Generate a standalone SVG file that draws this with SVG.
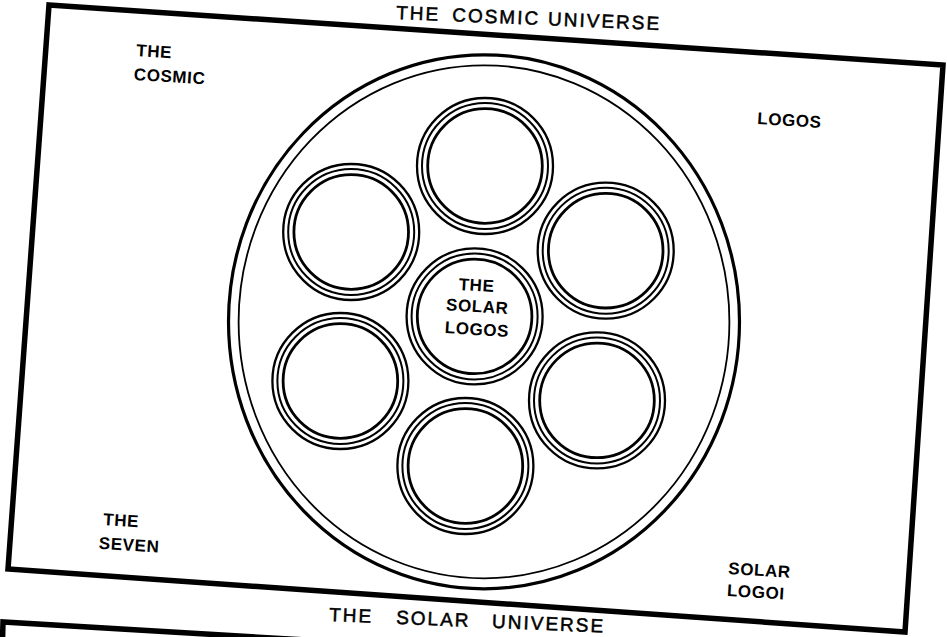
<svg xmlns="http://www.w3.org/2000/svg" width="947" height="637" viewBox="0 0 947 637">
<style>
  .frame { fill: none; stroke: #000; stroke-width: 5.5; stroke-linejoin: miter; }
  .ring1 { fill: none; stroke: #000; stroke-width: 2.3; }
  .ring2 { fill: none; stroke: #000; stroke-width: 2; }
  .ring3 { fill: none; stroke: #000; stroke-width: 2.8; }
  .big-out { fill: none; stroke: #000; stroke-width: 3.2; }
  .big-in { fill: none; stroke: #000; stroke-width: 1.8; }
  .lbl { font-family: "Liberation Sans", Arial, sans-serif; font-weight: bold; font-size: 17px; fill: #000; letter-spacing: 0.6px; }
  .title { font-family: "Liberation Sans", Arial, sans-serif; font-size: 19px; fill: #000; stroke: #000; stroke-width: 0.5px; letter-spacing: 2px; }
</style>
<defs>
  <g id="triple">
    <circle class="ring1" r="68"/>
    <circle class="ring2" r="63"/>
    <circle class="ring3" r="57.3"/>
  </g>
</defs>
<rect width="947" height="637" fill="#fff"/>

<g id="titles">
  <text class="title" transform="translate(396,19) rotate(2.4)"><tspan x="0">THE</tspan><tspan x="56">COSMIC</tspan><tspan x="152">UNIVERSE</tspan></text>
  <text class="title" transform="translate(329,621) rotate(2.4)"><tspan x="0">THE</tspan><tspan x="67">SOLAR</tspan><tspan x="163">UNIVERSE</tspan></text>
</g>

<g id="frame">
  <polygon class="frame" points="49,5 943,65 905,632 8,569"/>
  <polyline class="frame" points="2,660 3,622 340,642"/>
</g>

<g id="cosmic-logos">
  <ellipse class="big-out" cx="484" cy="321.8" rx="255.5" ry="267"/>
  <ellipse class="big-in" cx="484" cy="321.8" rx="245.4" ry="256.5"/>
</g>

<g id="connectors"></g>

<g id="logos-top"><use href="#triple" x="485" y="166"/></g>
<g id="logos-upper-left"><use href="#triple" x="351.2" y="232"/></g>
<g id="logos-upper-right"><use href="#triple" x="605.7" y="250.7"/></g>
<g id="solar-logos">
  <use href="#triple" x="474.6" y="316.4"/>
  <g transform="rotate(3.5 476 312)">
    <text class="lbl" x="475" y="291" text-anchor="middle">THE</text>
    <text class="lbl" x="477" y="312" text-anchor="middle">SOLAR</text>
    <text class="lbl" x="478" y="335" text-anchor="middle">LOGOS</text>
  </g>
</g>
<g id="logos-lower-left"><use href="#triple" x="340.4" y="381"/></g>
<g id="logos-lower-right"><use href="#triple" x="597" y="400.4"/></g>
<g id="logos-bottom"><use href="#triple" x="465.4" y="466"/></g>

<g id="labels">
  <g transform="rotate(3.5 136 56)">
    <text class="lbl" x="136" y="56">THE</text>
    <text class="lbl" x="135" y="80">COSMIC</text>
  </g>
  <text class="lbl" x="757" y="124" transform="rotate(3.5 757 124)">LOGOS</text>
  <g transform="rotate(3.5 103 525)">
    <text class="lbl" x="103" y="525">THE</text>
    <text class="lbl" x="100" y="549">SEVEN</text>
  </g>
  <g transform="rotate(3.5 728 574)">
    <text class="lbl" x="728" y="574">SOLAR</text>
    <text class="lbl" x="728" y="596">LOGOI</text>
  </g>
</g>
</svg>
